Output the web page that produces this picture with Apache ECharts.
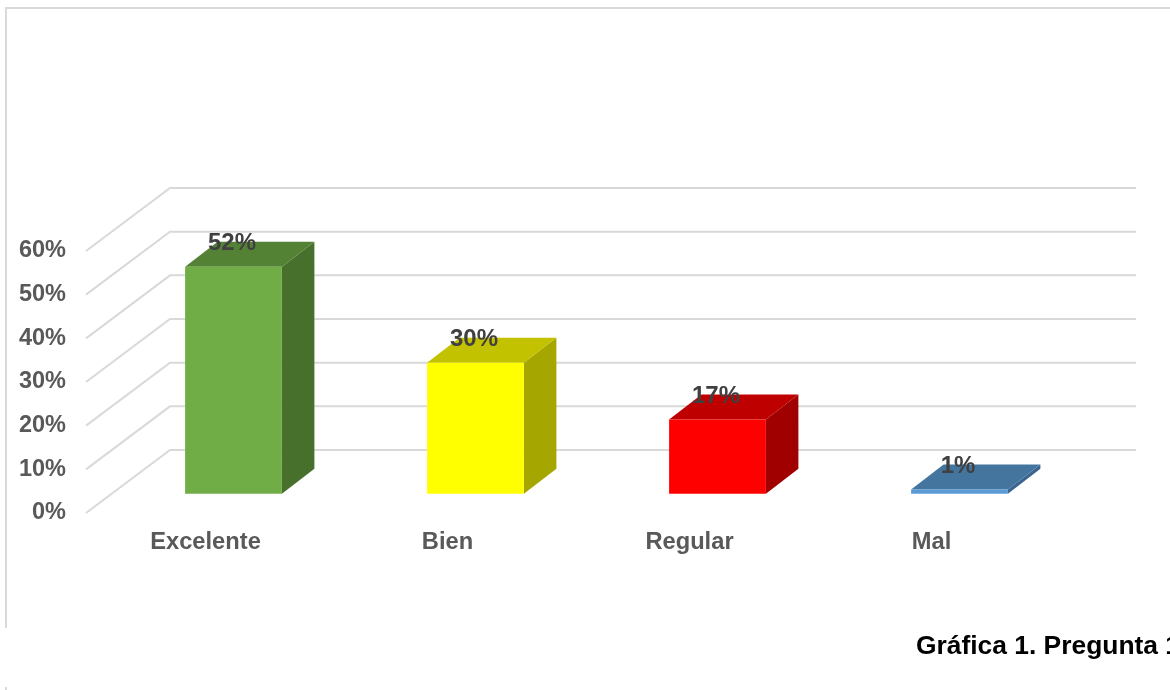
<!DOCTYPE html>
<html>
<head>
<meta charset="utf-8">
<style>html,body{margin:0;padding:0;background:#fff}#c{width:1170px;height:690px}</style>
<script src="https://cdn.jsdelivr.net/npm/echarts@6/dist/echarts.min.js"></script>
</head>
<body>
<div id="c"></div>
<script>
const categories = ['Excelente', 'Bien', 'Regular', 'Mal'];
const values = [52, 30, 17, 1];
const valueLabels = ['52%', '30%', '17%', '1%'];
const ticks = [0, 10, 20, 30, 40, 50, 60];
const caption = 'Gráfica 1. Pregunta 1';
const frontColors = ['#70ad47', '#ffff00', '#ff0000', '#5b9bd5'];
const topColors = ['#548235', '#c2c200', '#bf0000', '#44759f'];
const sideColors = ['#47702d', '#a6a600', '#a00000', '#3a6590'];

const FONT = '"Liberation Sans", Arial, sans-serif';
const WALL = [84, -63];      // depth of the floor / back wall
const BAR_SHIFT = [26.5, -19.2]; // bar position within the depth
const BAR_DEPTH = [32.5, -25];
const GRID = '#d9d9d9';

function renderWall(params, api) {
  const y = api.coord([0, api.value(0)])[1];
  const cs = params.coordSys;
  const x0 = cs.x, x1 = cs.x + WALL[0], x2 = cs.x + cs.width + 82;
  return {
    type: 'polyline', silent: true,
    shape: { points: [[x0, y], [x1, y + WALL[1]], [x2, y + WALL[1]]] },
    style: { fill: 'none', stroke: GRID, lineWidth: 2 }
  };
}

function renderBar(params, api) {
  const i = params.dataIndex;
  const base = api.coord([api.value(0), 0]);
  const top = api.coord([api.value(0), api.value(1)]);
  const w = api.size([1, 0])[0] * 0.4;
  const l = base[0] - w / 2 + BAR_SHIFT[0], r = l + w;
  const b = base[1] + BAR_SHIFT[1], t = top[1] + BAR_SHIFT[1];
  const dx = BAR_DEPTH[0], dy = BAR_DEPTH[1];
  return {
    type: 'group',
    children: [
      { type: 'polygon', shape: { points: [[r, t], [r + dx, t + dy], [r + dx, b + dy], [r, b]] }, style: { fill: sideColors[i] } },
      { type: 'polygon', shape: { points: [[l, t], [l + dx, t + dy], [r + dx, t + dy], [r, t]] }, style: { fill: topColors[i] } },
      { type: 'rect', shape: { x: l, y: t, width: w, height: b - t }, style: { fill: frontColors[i] } },
      { type: 'text', style: { x: (l + r) / 2 - 1.5, y: t - 23.5, text: valueLabels[i], align: 'center', verticalAlign: 'middle',
          fill: '#404040', font: 'bold 24px ' + FONT } }
    ]
  };
}

const chart = echarts.init(document.getElementById('c'), null, { renderer: 'canvas' });
chart.setOption({
  animation: false,
  backgroundColor: '#fff',
  title: {
    text: caption, left: 916, top: 634, padding: 0,
    textStyle: { color: '#000', fontFamily: FONT, fontWeight: 'bold', fontSize: 26.4 }
  },
  graphic: [
    { type: 'polyline', silent: true, shape: { points: [[6, 628], [6, 8], [1170, 8]] }, style: { fill: 'none', stroke: GRID, lineWidth: 2 } },
    { type: 'line', silent: true, shape: { x1: 6, y1: 687, x2: 6, y2: 690 }, style: { stroke: GRID, lineWidth: 2 } }
  ],
  grid: { left: 86, top: 251, width: 968, height: 262 },
  xAxis: {
    type: 'category', data: categories,
    axisLine: { show: false }, axisTick: { show: false }, splitLine: { show: false },
    axisLabel: { color: '#595959', fontFamily: FONT, fontWeight: 'bold', fontSize: 23.7, margin: 17, padding: [0, 3, 0, 0] }
  },
  yAxis: {
    type: 'value', min: 0, max: 60, interval: 10,
    axisLine: { show: false }, axisTick: { show: false }, splitLine: { show: false },
    axisLabel: { color: '#595959', fontFamily: FONT, fontWeight: 'bold', fontSize: 23.5, margin: 20, padding: [5, 0, 0, 0], formatter: '{value}%' }
  },
  series: [
    { type: 'custom', silent: true, clip: false, z: 1, renderItem: renderWall, data: ticks.map(v => [v]), encode: { y: 0 } },
    { type: 'custom', silent: true, clip: false, z: 2, renderItem: renderBar, data: values.map((v, i) => [i, v]), encode: { x: 0, y: 1 } }
  ]
});
</script>
</body>
</html>
